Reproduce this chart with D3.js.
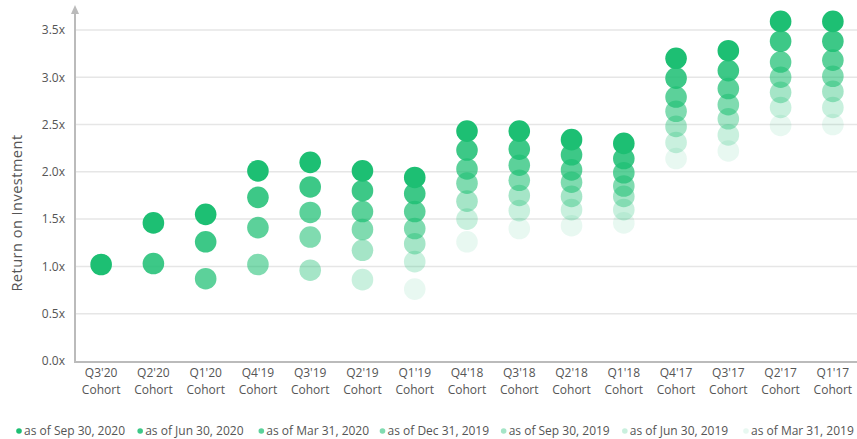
<!DOCTYPE html>
<html lang='en'>
<head>
    <meta charset='UTF-8' />
    <title>Return on Investment by Cohort</title>
    <script src="https://cdn.jsdelivr.net/npm/d3@7"></script>
    <style>
        html,
        body {
            margin: 0;
            background: #fff;
        }

        text {
            font-family: "Open Sans", sans-serif;
            fill: #555;
        }
    </style>
</head>
<body>
    <div id="container"></div>
    <script>
        // begin data //

        const cohorts = ["Q3'20", "Q2'20", "Q1'20", "Q4'19", "Q3'19", "Q2'19", "Q1'19",
            "Q4'18", "Q3'18", "Q2'18", "Q1'18", "Q4'17", "Q3'17", "Q2'17", "Q1'17"];

        const seriesNames = ["as of Sep 30, 2020", "as of Jun 30, 2020", "as of Mar 31, 2020",
            "as of Dec 31, 2019", "as of Sep 30, 2019", "as of Jun 30, 2019", "as of Mar 31, 2019"];

        // one array per series, aligned with cohorts (null = cohort not yet around)
        const sep2020 = [1.02, 1.46, 1.55, 2.01, 2.10, 2.01, 1.94, 2.43, 2.43, 2.34, 2.30, 3.20, 3.28, 3.59, 3.59];
        const jun2020 = [null, 1.03, 1.26, 1.73, 1.84, 1.80, 1.77, 2.23, 2.24, 2.18, 2.14, 2.99, 3.07, 3.38, 3.38];
        const mar2020 = [null, null, 0.87, 1.41, 1.57, 1.58, 1.58, 2.03, 2.07, 2.02, 1.99, 2.79, 2.88, 3.16, 3.18];
        const dec2019 = [null, null, null, 1.02, 1.31, 1.39, 1.40, 1.88, 1.91, 1.89, 1.85, 2.64, 2.71, 3.00, 3.01];
        const sep2019 = [null, null, null, null, 0.96, 1.17, 1.24, 1.69, 1.75, 1.74, 1.74, 2.48, 2.56, 2.84, 2.85];
        const jun2019 = [null, null, null, null, null, 0.86, 1.05, 1.50, 1.59, 1.60, 1.60, 2.31, 2.39, 2.68, 2.68];
        const mar2019 = [null, null, null, null, null, null, 0.76, 1.26, 1.40, 1.43, 1.46, 2.14, 2.22, 2.49, 2.50];

        const yTicks = [0, 0.5, 1.0, 1.5, 2.0, 2.5, 3.0, 3.5];

        // end data //

        const series = [sep2020, jun2020, mar2020, dec2019, sep2019, jun2019, mar2019];
        const opacities = [1, 0.86, 0.72, 0.56, 0.4, 0.24, 0.1];
        const green = "#1dbf73";

        const width = 857, height = 439;
        const margin = { top: 8, right: 0, bottom: 78, left: 75 };
        const plotBottom = height - margin.bottom;

        const svg = d3.select("#container")
            .append("svg")
            .attr("width", width)
            .attr("height", height);

        const x = d3.scaleBand()
            .domain(cohorts)
            .range([margin.left, 859]);

        const y = d3.scaleLinear()
            .domain([0, 3.5])
            .range([plotBottom, plotBottom - 3.5 * 94.6]);

        // gridlines
        svg.append("g")
            .selectAll("line")
            .data(yTicks.slice(1))
            .join("line")
            .attr("x1", margin.left)
            .attr("x2", width)
            .attr("y1", d => y(d))
            .attr("y2", d => y(d))
            .attr("stroke", "#e6e6e6")
            .attr("stroke-width", 1.5);

        // y axis
        const yAxis = svg.append("g")
            .attr("transform", `translate(${margin.left},0)`)
            .call(d3.axisLeft(y).tickValues(yTicks).tickSize(0).tickPadding(10)
                .tickFormat(d => d3.format(".1f")(d) + "x"));
        yAxis.select(".domain").remove();
        yAxis.selectAll("text")
            .style("font-size", "12px")
            .attr("fill", "#555");

        svg.append("line")
            .attr("x1", margin.left)
            .attr("x2", margin.left)
            .attr("y1", 12)
            .attr("y2", plotBottom + 1)
            .attr("stroke", "#bbb")
            .attr("stroke-width", 2);
        svg.append("path")
            .attr("d", `M${margin.left - 4},${14} L${margin.left},${5} L${margin.left + 4},${14} Z`)
            .attr("fill", "#bbb");

        // x axis
        svg.append("line")
            .attr("x1", margin.left - 1)
            .attr("x2", width)
            .attr("y1", plotBottom + 1)
            .attr("y2", plotBottom + 1)
            .attr("stroke", "#bbb")
            .attr("stroke-width", 2);

        // two-line cohort labels, spaced so the lines don't collide
        const xLabels = svg.append("g")
            .selectAll("g")
            .data(cohorts)
            .join("g")
            .attr("transform", d => `translate(${x(d) + x.bandwidth() / 2},0)`);
        xLabels.append("text")
            .attr("y", plotBottom + 16)
            .attr("text-anchor", "middle")
            .style("font-size", "12px")
            .text(d => d);
        xLabels.append("text")
            .attr("y", plotBottom + 32.5)
            .attr("text-anchor", "middle")
            .style("font-size", "12px")
            .text("Cohort");

        svg.append("text")
            .attr("transform", `translate(22,213) rotate(-90)`)
            .attr("text-anchor", "middle")
            .style("font-size", "14.5px")
            .style("letter-spacing", "0.5px")
            .text("Return on Investment");

        // dots: lightest series first so darker ones sit on top
        const dots = [];
        series.forEach((values, si) => {
            values.forEach((v, ci) => {
                if (v !== null) dots.push({ cohort: cohorts[ci], value: v, s: si });
            });
        });
        dots.sort((a, b) => b.s - a.s);

        svg.append("g")
            .selectAll("circle")
            .data(dots)
            .join("circle")
            .attr("cx", d => x(d.cohort) + x.bandwidth() / 2)
            .attr("cy", d => y(d.value))
            .attr("r", 10.8)
            .attr("fill", green)
            .attr("fill-opacity", d => opacities[d.s]);

        // legend
        const lx = d3.scalePoint()
            .domain(seriesNames)
            .range([19, 746]);

        const legend = svg.append("g")
            .selectAll("g")
            .data(seriesNames)
            .join("g")
            .attr("transform", d => `translate(${lx(d)},${431})`);
        legend.append("circle")
            .attr("r", 2.8)
            .attr("fill", green)
            .attr("fill-opacity", (d, i) => opacities[i]);
        legend.append("text")
            .attr("x", 5)
            .attr("dy", "0.35em")
            .style("font-size", "12px")
            .text(d => d);
    </script>
</body>
</html>
